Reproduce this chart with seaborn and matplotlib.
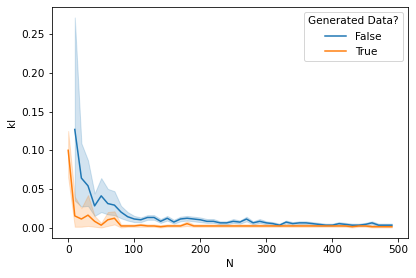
import matplotlib
matplotlib.use("Agg")
import matplotlib.pyplot as plt
import numpy as np
import pandas as pd
import seaborn as sns

# ---- data ----
n_false = list(range(10, 500, 10))
kl_false = [0.127, 0.064, 0.054, 0.028, 0.041, 0.031, 0.029, 0.020, 0.014, 0.011,
            0.010, 0.013, 0.013, 0.008, 0.012, 0.007, 0.011, 0.012, 0.011, 0.010,
            0.008, 0.008, 0.006, 0.006, 0.008, 0.007, 0.011, 0.006, 0.008, 0.006,
            0.005, 0.003, 0.007, 0.005, 0.006, 0.006, 0.005, 0.004, 0.003, 0.003,
            0.005, 0.004, 0.003, 0.003, 0.004, 0.006, 0.003, 0.003, 0.003]
lo_false = [0.035, 0.027, 0.028, 0.015, 0.020, 0.017, 0.016, 0.012, 0.009, 0.007,
            0.007, 0.010, 0.010, 0.006, 0.009, 0.005, 0.008, 0.009, 0.008, 0.007,
            0.006, 0.006, 0.004, 0.004, 0.006, 0.005, 0.008, 0.004, 0.006, 0.004,
            0.003, 0.002, 0.005, 0.003, 0.004, 0.004, 0.003, 0.002, 0.002, 0.002,
            0.003, 0.002, 0.002, 0.002, 0.002, 0.004, 0.002, 0.002, 0.002]
hi_false = [0.272, 0.109, 0.087, 0.044, 0.064, 0.050, 0.047, 0.028, 0.020, 0.015,
            0.013, 0.016, 0.016, 0.011, 0.015, 0.010, 0.014, 0.015, 0.014, 0.013,
            0.011, 0.011, 0.008, 0.008, 0.011, 0.009, 0.014, 0.008, 0.011, 0.008,
            0.007, 0.005, 0.009, 0.007, 0.008, 0.008, 0.007, 0.006, 0.005, 0.005,
            0.007, 0.006, 0.005, 0.005, 0.006, 0.008, 0.005, 0.005, 0.005]

n_true = list(range(0, 500, 10))
kl_true = [0.100, 0.015, 0.011, 0.016, 0.008, 0.003, 0.010, 0.012, 0.002, 0.002,
           0.002, 0.003, 0.002, 0.002, 0.001, 0.002, 0.002, 0.002, 0.005, 0.002,
           0.002, 0.002, 0.002, 0.002, 0.002, 0.002, 0.002, 0.002, 0.002, 0.002,
           0.002, 0.002, 0.002, 0.002, 0.002, 0.002, 0.002, 0.002, 0.002, 0.002,
           0.002, 0.002, 0.002, 0.001, 0.002, 0.002, 0.001, 0.001, 0.001, 0.001]
lo_true = [0.065, 0.001, 0.001, 0.002, 0.001, 0.000, 0.002, 0.004, 0.000, 0.001,
           0.001, 0.001, 0.001, 0.001, 0.000, 0.001, 0.001, 0.001, 0.002, 0.001,
           0.001, 0.001, 0.001, 0.001, 0.001, 0.001, 0.001, 0.001, 0.001, 0.001,
           0.001, 0.001, 0.001, 0.001, 0.001, 0.001, 0.001, 0.001, 0.001, 0.001,
           0.001, 0.001, 0.001, 0.000, 0.001, 0.001, 0.000, 0.000, 0.000, 0.000]
hi_true = [0.125, 0.040, 0.025, 0.042, 0.015, 0.006, 0.020, 0.021, 0.004, 0.004,
           0.004, 0.005, 0.004, 0.004, 0.003, 0.004, 0.004, 0.004, 0.008, 0.004,
           0.004, 0.004, 0.004, 0.004, 0.004, 0.004, 0.004, 0.004, 0.004, 0.004,
           0.004, 0.004, 0.004, 0.004, 0.004, 0.004, 0.004, 0.004, 0.004, 0.004,
           0.004, 0.004, 0.004, 0.003, 0.004, 0.004, 0.003, 0.003, 0.003, 0.003]

# long table: low / centre / high per N, so median = centre and 0-100 pi = band
rows = []
for label, ns, mid, lo, hi in [("False", n_false, kl_false, lo_false, hi_false),
                               ("True", n_true, kl_true, lo_true, hi_true)]:
    for n, m, l, h in zip(ns, mid, lo, hi):
        for v in (l, m, h):
            rows.append({"N": n, "kl": v, "Generated Data?": label})
df = pd.DataFrame(rows)

plt.rcParams["font.size"] = 10.5
fig = plt.figure(figsize=(416 / 72, 278 / 72), dpi=72)
ax = fig.add_axes([52 / 416, 1 - 238 / 278, (408 - 52) / 416, (238 - 7) / 278])
sns.lineplot(data=df, x="N", y="kl", hue="Generated Data?",
             hue_order=["False", "True"], estimator="median",
             errorbar=("pi", 100), ax=ax)
sns.move_legend(ax, "upper right", title="Generated Data?")
fig.savefig("out.png", dpi=72)
